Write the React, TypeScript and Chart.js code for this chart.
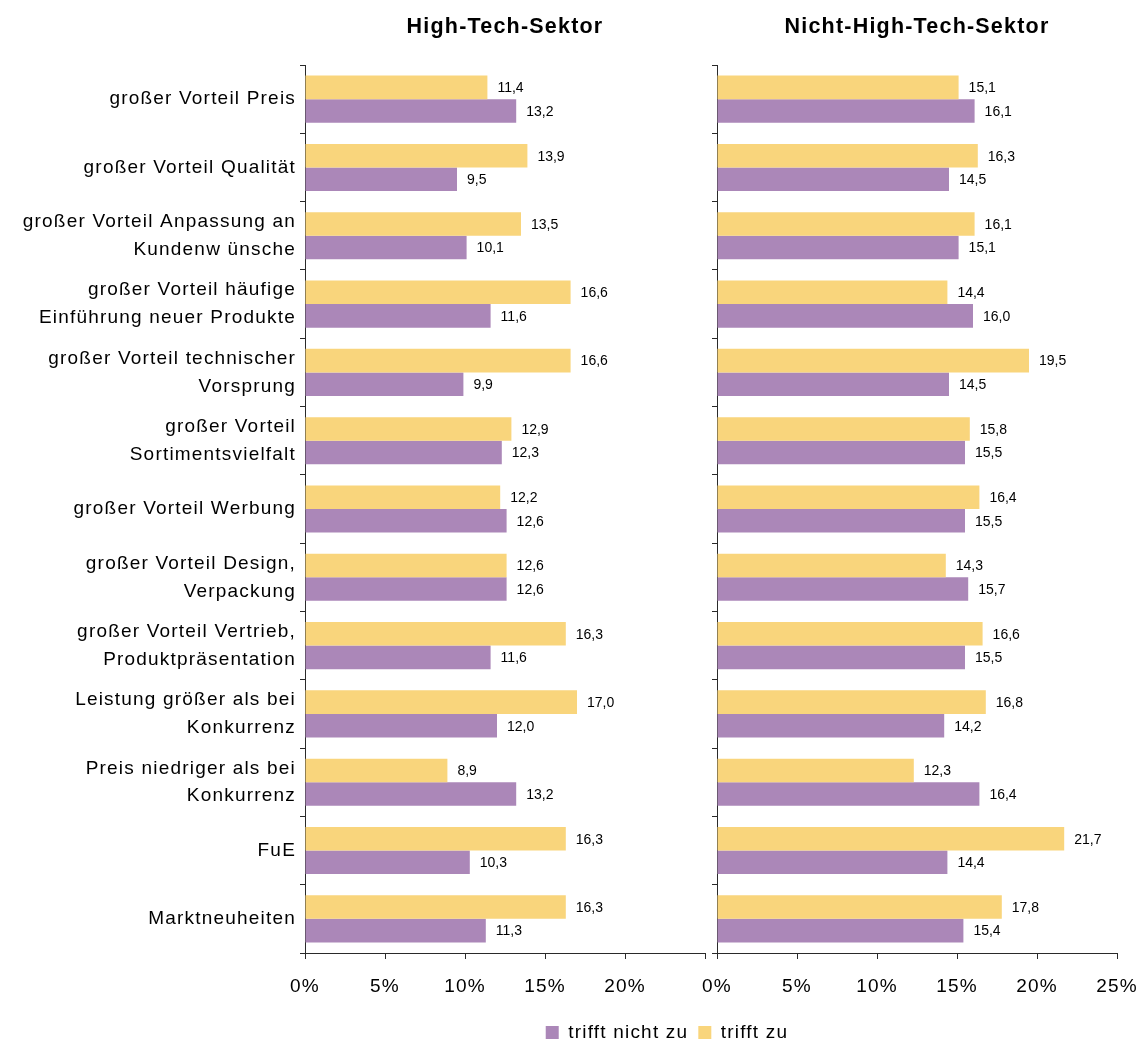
import React, { useEffect, useRef } from 'react';
import { Chart, registerables } from 'chart.js';

Chart.register(...registerables);

const categories: (string | string[])[] = [
  'großer Vorteil Preis',
  'großer Vorteil Qualität',
  ['großer Vorteil Anpassung an', 'Kundenw ünsche'],
  ['großer Vorteil häufige', 'Einführung neuer Produkte'],
  ['großer Vorteil technischer', 'Vorsprung'],
  ['großer Vorteil', 'Sortimentsvielfalt'],
  'großer Vorteil Werbung',
  ['großer Vorteil Design,', 'Verpackung'],
  ['großer Vorteil Vertrieb,', 'Produktpräsentation'],
  ['Leistung größer als bei', 'Konkurrenz'],
  ['Preis niedriger als bei', 'Konkurrenz'],
  'FuE',
  'Marktneuheiten',
];

const seriesZu = 'trifft zu';
const seriesNichtZu = 'trifft nicht zu';

const highTechZu = [11.4, 13.9, 13.5, 16.6, 16.6, 12.9, 12.2, 12.6, 16.3, 17.0, 8.9, 16.3, 16.3];
const highTechNichtZu = [13.2, 9.5, 10.1, 11.6, 9.9, 12.3, 12.6, 12.6, 11.6, 12.0, 13.2, 10.3, 11.3];
const nonHighTechZu = [15.1, 16.3, 16.1, 14.4, 19.5, 15.8, 16.4, 14.3, 16.6, 16.8, 12.3, 21.7, 17.8];
const nonHighTechNichtZu = [16.1, 14.5, 15.1, 16.0, 14.5, 15.5, 15.5, 15.7, 15.5, 14.2, 16.4, 14.4, 15.4];

const panelTitles = ['High-Tech-Sektor', 'Nicht-High-Tech-Sektor'];
const xMin = 0;
const xMax = 25;
const xStep = 5;

const COLOR_ZU = '#F9D57C';
const COLOR_NICHT = '#AB87B8';
const AXIS_COLOR = '#2a2a2a';
const FONT = "'Liberation Sans', Arial, sans-serif";
const SPACING = '1.2px';

const W = 1143;
const H = 1052;
const PLOT_TOP = 65;
const PLOT_BOTTOM = 953;

const letterSpacing = {
  id: 'letterSpacing',
  beforeUpdate(chart: any) {
    chart.ctx.letterSpacing = SPACING;
  },
  beforeLayout(chart: any) {
    chart.ctx.letterSpacing = SPACING;
  },
  beforeDraw(chart: any) {
    chart.ctx.letterSpacing = SPACING;
  },
};

const valueLabels = {
  id: 'valueLabels',
  afterDatasetsDraw(chart: any) {
    const ctx = chart.ctx;
    ctx.save();
    ctx.letterSpacing = '0px';
    ctx.font = `14px ${FONT}`;
    ctx.fillStyle = '#000';
    ctx.textAlign = 'left';
    ctx.textBaseline = 'middle';
    chart.data.datasets.forEach((ds: any, i: number) => {
      const meta = chart.getDatasetMeta(i);
      meta.data.forEach((el: any, j: number) => {
        const v = ds.data[j] as number;
        ctx.fillText(v.toFixed(1).replace('.', ','), el.x + 10, el.y + 1);
      });
    });
    ctx.restore();
  },
};

function makeConfig(p: {
  zu: number[];
  nicht: number[];
  title: string;
  showCategoryLabels: boolean;
  showLegend: boolean;
  padLeft: number;
  padRight: number;
  yWidth: number;
  hideLastTick: boolean;
}): any {
  return {
    type: 'bar',
    data: {
      labels: categories,
      datasets: [
        {
          label: seriesZu,
          data: p.zu,
          backgroundColor: COLOR_ZU,
          borderWidth: 0,
          categoryPercentage: 0.69,
          barPercentage: 1,
        },
        {
          label: seriesNichtZu,
          data: p.nicht,
          backgroundColor: COLOR_NICHT,
          borderWidth: 0,
          categoryPercentage: 0.69,
          barPercentage: 1,
        },
      ],
    },
    plugins: [letterSpacing, valueLabels],
    options: {
      indexAxis: 'y',
      responsive: false,
      animation: false,
      maintainAspectRatio: false,
      layout: { padding: { left: p.padLeft, right: p.padRight, top: 0, bottom: 0 } },
      plugins: {
        tooltip: { enabled: false },
        title: { display: false },
        legend: {
          display: p.showLegend,
          position: 'bottom',
          reverse: true,
          labels: {
            boxWidth: 13,
            boxHeight: 13,
            padding: 10,
            color: '#000',
            font: { size: 19, family: FONT },
          },
        },
      },
      scales: {
        x: {
          type: 'linear',
          position: 'bottom',
          min: xMin,
          max: xMax,
          ticks: {
            stepSize: xStep,
            color: '#000',
            padding: 16,
            font: { size: 19, family: FONT },
            maxRotation: 0,
            callback: (v: number) => (p.hideLastTick && v === xMax ? '' : `${v}%`),
          },
          grid: {
            display: true,
            drawOnChartArea: false,
            drawTicks: true,
            tickLength: 6,
            color: AXIS_COLOR,
          },
          border: { display: true, color: AXIS_COLOR, width: 1 },
          afterFit: (scale: any) => {
            const lh = scale.chart.legend && scale.chart.options.plugins.legend.display ? scale.chart.legend.height : 0;
            scale.height = H - PLOT_BOTTOM - lh;
            scale.paddingLeft = 0;
            scale.paddingRight = 0;
          },
        },
        x2: {
          type: 'linear',
          position: 'top',
          display: true,
          ticks: { display: false },
          grid: { display: false, drawTicks: false },
          border: { display: false },
          title: {
            display: true,
            text: p.title,
            color: '#000',
            font: { size: 21.5, weight: 'bold', family: FONT },
            padding: { top: 14, bottom: 0 },
          },
          afterFit: (scale: any) => {
            scale.height = PLOT_TOP;
            scale.paddingLeft = 0;
            scale.paddingRight = 0;
          },
        },
        y: {
          type: 'category',
          ticks: {
            display: p.showCategoryLabels,
            color: '#000',
            padding: 4,
            autoSkip: false,
            font: { size: 19, family: FONT, lineHeight: 1.47 },
          },
          grid: {
            display: true,
            offset: true,
            drawOnChartArea: false,
            drawTicks: true,
            tickLength: 5,
            color: AXIS_COLOR,
          },
          border: { display: true, color: AXIS_COLOR, width: 1 },
          afterFit: (scale: any) => {
            scale.width = p.yWidth;
          },
        },
      },
    },
  };
}

export default function App() {
  const leftRef = useRef<HTMLCanvasElement>(null);
  const rightRef = useRef<HTMLCanvasElement>(null);

  useEffect(() => {
    const left = new Chart(
      leftRef.current as HTMLCanvasElement,
      makeConfig({
        zu: highTechZu,
        nicht: highTechNichtZu,
        title: panelTitles[0],
        showCategoryLabels: true,
        showLegend: false,
        padLeft: 0,
        padRight: W - 705,
        yWidth: 305,
        hideLastTick: true,
      })
    );
    const right = new Chart(
      rightRef.current as HTMLCanvasElement,
      makeConfig({
        zu: nonHighTechZu,
        nicht: nonHighTechNichtZu,
        title: panelTitles[1],
        showCategoryLabels: false,
        showLegend: true,
        padLeft: 217,
        padRight: W - 1117,
        yWidth: 717 - 217,
        hideLastTick: false,
      })
    );
    return () => {
      left.destroy();
      right.destroy();
    };
  }, []);

  const canvasStyle: React.CSSProperties = { position: 'absolute', left: 0, top: 0 };
  return (
    <div
      style={{
        position: 'fixed',
        left: 0,
        top: 0,
        width: W,
        height: 1043,
        overflow: 'hidden',
        background: '#fff',
      }}
    >
      <canvas ref={leftRef} width={W} height={H} style={canvasStyle} />
      <canvas ref={rightRef} width={W} height={H} style={canvasStyle} />
    </div>
  );
}
